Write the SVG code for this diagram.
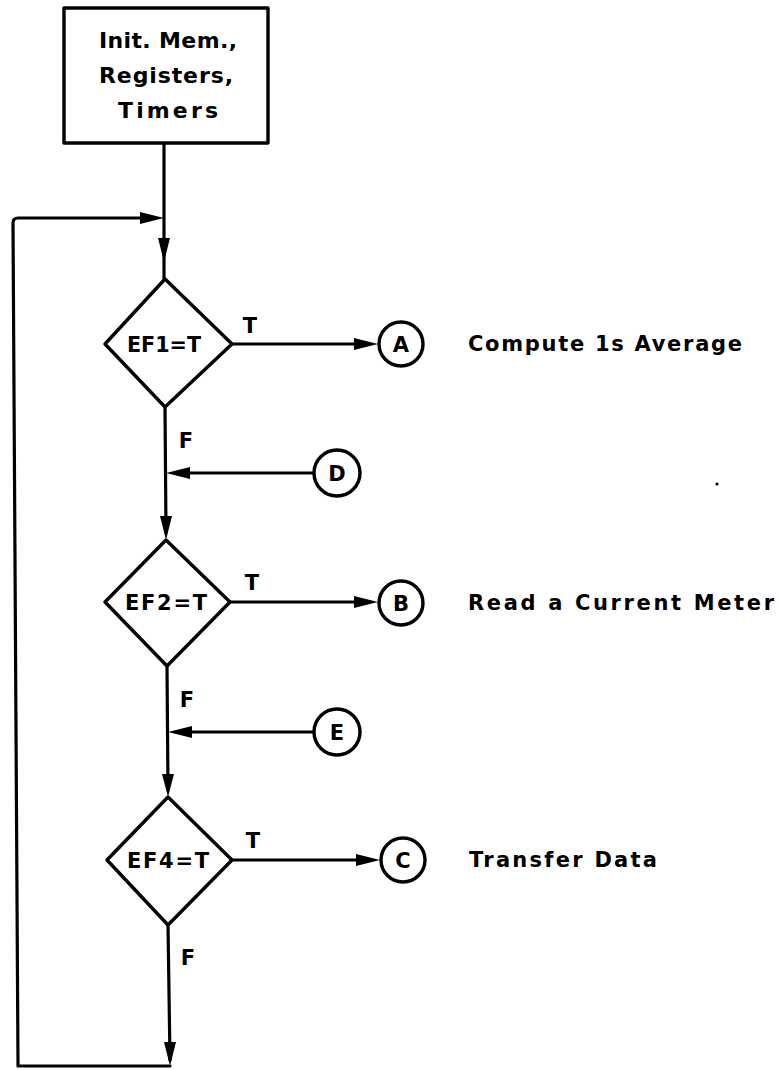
<svg xmlns="http://www.w3.org/2000/svg" width="780" height="1070" viewBox="0 0 780 1070">
<style>
.ln{fill:none;stroke:#000;stroke-width:3.2;stroke-linejoin:round;stroke-linecap:round}
.sh{fill:#fff;stroke:#000;stroke-width:3.4;stroke-linejoin:round}
.t{font-family:"DejaVu Sans","Liberation Sans",Arial,sans-serif;font-weight:bold;fill:#000}
.c{text-anchor:middle}
.ah{fill:#000;stroke:none}
</style>
<rect width="780" height="1070" fill="#fff"/>

<g id="connectors">
<line class="ln" x1="164" y1="143" x2="164" y2="279"/>
<path class="ah" d="M158,238 L164,262 L170,238 Z"/>
<path class="ln" d="M170,1066 L18,1066 L13,223 Q13,218 18,218 L150,218"/>
<path class="ah" d="M140,212 L164,218 L140,224 Z"/>
<line class="ln" x1="165" y1="407" x2="166" y2="532"/>
<path class="ah" d="M160,516 L166,540 L172,516 Z"/>
<line class="ln" x1="167" y1="666" x2="168" y2="790"/>
<path class="ah" d="M162,774 L168,797 L174,774 Z"/>
<line class="ln" x1="168" y1="925" x2="170" y2="1060"/>
<path class="ah" d="M164,1042 L170,1066 L176,1042 Z"/>
<line class="ln" x1="314" y1="473" x2="180" y2="473"/>
<path class="ah" d="M190,467 L166,473 L190,479 Z"/>
<line class="ln" x1="314" y1="732" x2="182" y2="732"/>
<path class="ah" d="M192,726 L168,732 L192,738 Z"/>
<line class="ln" x1="232" y1="344" x2="366" y2="344"/>
<path class="ah" d="M354,338 L378,344 L354,350 Z"/>
<line class="ln" x1="230" y1="602" x2="366" y2="602"/>
<path class="ah" d="M354,596 L378,602 L354,608 Z"/>
<line class="ln" x1="232" y1="860" x2="368" y2="860"/>
<path class="ah" d="M356,854 L380,860 L356,866 Z"/>
<text class="t c" x="250" y="333" font-size="21">T</text>
<text class="t c" x="252" y="590" font-size="21">T</text>
<text class="t c" x="253" y="848" font-size="21">T</text>
<text class="t c" x="186" y="448" font-size="21">F</text>
<text class="t c" x="187" y="707" font-size="21">F</text>
<text class="t c" x="188" y="965" font-size="21">F</text>
</g>

<g id="init">
<rect class="sh" x="64" y="8" width="204" height="135"/>
<text class="t c" x="168" y="48" font-size="22" textLength="138" lengthAdjust="spacing">Init. Mem.,</text>
<text class="t c" x="166" y="83" font-size="22" textLength="134" lengthAdjust="spacing">Registers,</text>
<text class="t c" x="168" y="118" font-size="22" textLength="100" lengthAdjust="spacing">Timers</text>
</g>

<g id="ef1">
<polygon class="sh" points="165,279 232,344 165,407 105,344"/>
<text class="t c" x="164" y="352" font-size="21" textLength="74" lengthAdjust="spacingAndGlyphs">EF1=T</text>
</g>
<g id="ef2">
<polygon class="sh" points="166,540 230,602 167,666 105,602"/>
<text class="t c" x="166" y="610" font-size="21" textLength="82" lengthAdjust="spacing">EF2=T</text>
</g>
<g id="ef4">
<polygon class="sh" points="168,797 232,860 168,925 107,860"/>
<text class="t c" x="168" y="868" font-size="21" textLength="82" lengthAdjust="spacing">EF4=T</text>
</g>

<g id="A">
<circle class="sh" cx="401" cy="344" r="22"/>
<text class="t c" x="401" y="352" font-size="21">A</text>
</g>
<g id="B">
<circle class="sh" cx="401" cy="603" r="22"/>
<text class="t c" x="401" y="611" font-size="21">B</text>
</g>
<g id="C">
<circle class="sh" cx="403" cy="860" r="22"/>
<text class="t c" x="403" y="868" font-size="21">C</text>
</g>
<g id="D">
<circle class="sh" cx="337" cy="473" r="23"/>
<text class="t c" x="337" y="481" font-size="21">D</text>
</g>
<g id="E">
<circle class="sh" cx="337" cy="732" r="23"/>
<text class="t c" x="337" y="740" font-size="21">E</text>
</g>

<g id="labels">
<text class="t" x="468" y="351" font-size="21" textLength="274" lengthAdjust="spacing">Compute 1s Average</text>
<text class="t" x="468" y="610" font-size="21" textLength="306" lengthAdjust="spacing">Read a Current Meter</text>
<text class="t" x="469" y="867" font-size="21" textLength="188" lengthAdjust="spacing">Transfer Data</text>
<circle cx="717" cy="484" r="1.6" fill="#000"/>
</g>
</svg>
